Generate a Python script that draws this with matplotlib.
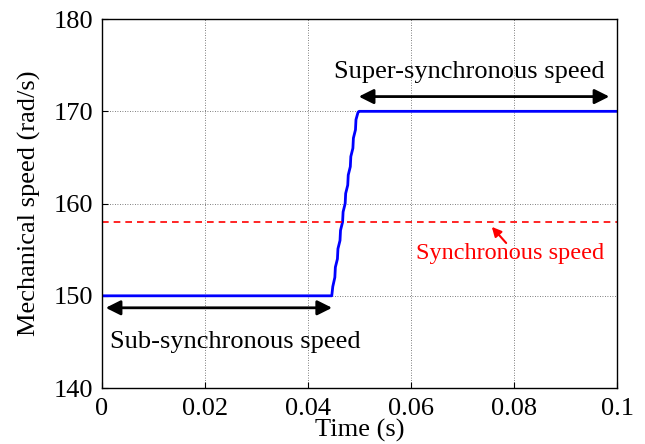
import matplotlib.pyplot as plt

plt.rcParams['font.family'] = ['Liberation Serif', 'DejaVu Serif']
plt.rcParams['mathtext.fontset'] = 'stix'

# speed trace (s, rad/s) - ramp has a small ripple
time = [0.0, 0.0446, 0.0448, 0.0452, 0.0453, 0.0457, 0.0458, 0.0462, 0.0463,
        0.0467, 0.0468, 0.0472, 0.0473, 0.0477, 0.0478, 0.0482, 0.0483,
        0.0487, 0.0488, 0.0492, 0.0493, 0.0497, 0.0499, 0.1]
speed = [150.0, 150.0, 151.0, 152.0, 153.1, 154.0, 155.1, 156.0, 157.1,
         158.0, 159.1, 160.0, 161.1, 162.0, 163.1, 164.0, 165.1,
         166.0, 167.1, 168.0, 169.1, 169.9, 170.0, 170.0]
sync_speed = 158.0
xticks = [0, 0.02, 0.04, 0.06, 0.08, 0.1]
xticklabels = ['0', '0.02', '0.04', '0.06', '0.08', '0.1']
yticks = [140, 150, 160, 170, 180]

fig = plt.figure(figsize=(6.45, 4.44), dpi=100)
ax = fig.add_axes([0.158, 0.126, 0.799, 0.831])

ax.plot(time, speed, color='#0000ff', lw=2.0)
ax.axhline(sync_speed, color='#ff0000', lw=1.2, ls=(0, (4, 3)))

ax.set_xlim(0, 0.1)
ax.set_ylim(140, 180)
ax.set_xticks(xticks)
ax.set_xticklabels(xticklabels)
ax.set_yticks(yticks)
ax.tick_params(direction='in', length=4, labelsize=19, width=0.8)
ax.tick_params(axis='x', pad=7)
ax.tick_params(axis='y', pad=6)
ax.grid(True, color='#555555', ls=(0, (1, 2)), lw=0.6)
for s in ax.spines.values():
    s.set_linewidth(1.0)

ax.set_xlabel('Time (s)', fontsize=19, labelpad=-0.5)
ax.set_ylabel('Mechanical speed (rad/s)', fontsize=19, labelpad=9)

# double arrows
ax.annotate('', xy=(0.0002, 148.7), xytext=(0.0452, 148.7),
            arrowprops=dict(arrowstyle='<|-|>', color='black', lw=2.0, mutation_scale=22))
ax.text(0.0258, 145.0, 'Sub-synchronous speed', fontsize=19, ha='center', va='center')
ax.annotate('', xy=(0.0493, 171.6), xytext=(0.0990, 171.6),
            arrowprops=dict(arrowstyle='<|-|>', color='black', lw=2.0, mutation_scale=22))
ax.text(0.0712, 174.3, 'Super-synchronous speed', fontsize=19, ha='center', va='center')

ax.annotate('', xy=(0.0753, 157.7), xytext=(0.0788, 155.5),
            arrowprops=dict(arrowstyle='-|>', color='#ff0000', lw=1.5, mutation_scale=14))
ax.text(0.0792, 154.6, 'Synchronous speed', fontsize=17.5, color='#ff0000', ha='center', va='center')

fig.savefig('out.png', dpi=100)
